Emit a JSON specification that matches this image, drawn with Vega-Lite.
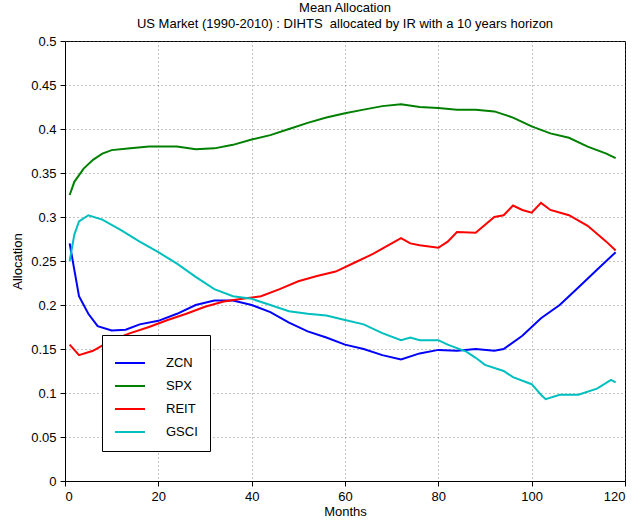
{
"$schema":"https://vega.github.io/schema/vega-lite/v6.json",
"width":560,"height":440,
"padding":{"left":11,"top":2,"right":2,"bottom":2},
"title":{"text":["Mean Allocation","US Market (1990-2010) : DIHTS \u00a0allocated by IR with a 10 years horizon"],"font":"Liberation Sans","fontSize":13,"fontWeight":"normal","color":"black","offset":4,"lineHeight":16},
"config":{"font":"Liberation Sans","view":{"stroke":"black"},"axis":{"labelFont":"Liberation Sans","titleFont":"Liberation Sans","labelFontSize":13,"titleFontSize":13,"titleFontWeight":"normal","labelColor":"black","titleColor":"black","domainColor":"black","tickColor":"black","tickSize":5,"labelPadding":4,"gridDash":[1,3],"gridColor":"#555","gridOpacity":0.7}},
"data":{"values":[
{"s":"ZCN","m":1,"v":0.27},{"s":"ZCN","m":2,"v":0.24},{"s":"ZCN","m":3,"v":0.21},{"s":"ZCN","m":5,"v":0.19},{"s":"ZCN","m":7,"v":0.176},{"s":"ZCN","m":10,"v":0.171},{"s":"ZCN","m":13,"v":0.172},{"s":"ZCN","m":16,"v":0.178},{"s":"ZCN","m":20,"v":0.182},{"s":"ZCN","m":24,"v":0.19},{"s":"ZCN","m":28,"v":0.2},{"s":"ZCN","m":32,"v":0.205},{"s":"ZCN","m":36,"v":0.205},{"s":"ZCN","m":40,"v":0.2},{"s":"ZCN","m":44,"v":0.192},{"s":"ZCN","m":48,"v":0.18},{"s":"ZCN","m":52,"v":0.17},{"s":"ZCN","m":56,"v":0.163},{"s":"ZCN","m":60,"v":0.155},{"s":"ZCN","m":64,"v":0.15},{"s":"ZCN","m":68,"v":0.143},{"s":"ZCN","m":72,"v":0.138},{"s":"ZCN","m":76,"v":0.145},{"s":"ZCN","m":80,"v":0.149},{"s":"ZCN","m":84,"v":0.148},{"s":"ZCN","m":88,"v":0.15},{"s":"ZCN","m":92,"v":0.148},{"s":"ZCN","m":94,"v":0.15},{"s":"ZCN","m":98,"v":0.165},{"s":"ZCN","m":102,"v":0.185},{"s":"ZCN","m":106,"v":0.2},{"s":"ZCN","m":110,"v":0.22},{"s":"ZCN","m":114,"v":0.24},{"s":"ZCN","m":118,"v":0.26},
{"s":"SPX","m":1,"v":0.325},{"s":"SPX","m":2,"v":0.34},{"s":"SPX","m":4,"v":0.355},{"s":"SPX","m":6,"v":0.365},{"s":"SPX","m":8,"v":0.372},{"s":"SPX","m":10,"v":0.376},{"s":"SPX","m":14,"v":0.378},{"s":"SPX","m":18,"v":0.38},{"s":"SPX","m":24,"v":0.38},{"s":"SPX","m":28,"v":0.377},{"s":"SPX","m":32,"v":0.378},{"s":"SPX","m":36,"v":0.382},{"s":"SPX","m":40,"v":0.388},{"s":"SPX","m":44,"v":0.393},{"s":"SPX","m":48,"v":0.4},{"s":"SPX","m":52,"v":0.407},{"s":"SPX","m":56,"v":0.413},{"s":"SPX","m":60,"v":0.418},{"s":"SPX","m":64,"v":0.422},{"s":"SPX","m":68,"v":0.426},{"s":"SPX","m":72,"v":0.428},{"s":"SPX","m":76,"v":0.425},{"s":"SPX","m":80,"v":0.424},{"s":"SPX","m":84,"v":0.422},{"s":"SPX","m":88,"v":0.422},{"s":"SPX","m":92,"v":0.42},{"s":"SPX","m":96,"v":0.413},{"s":"SPX","m":100,"v":0.403},{"s":"SPX","m":104,"v":0.395},{"s":"SPX","m":108,"v":0.39},{"s":"SPX","m":112,"v":0.38},{"s":"SPX","m":116,"v":0.372},{"s":"SPX","m":118,"v":0.367},
{"s":"REIT","m":1,"v":0.155},{"s":"REIT","m":3,"v":0.143},{"s":"REIT","m":6,"v":0.148},{"s":"REIT","m":10,"v":0.16},{"s":"REIT","m":14,"v":0.168},{"s":"REIT","m":18,"v":0.175},{"s":"REIT","m":22,"v":0.183},{"s":"REIT","m":26,"v":0.19},{"s":"REIT","m":30,"v":0.198},{"s":"REIT","m":34,"v":0.204},{"s":"REIT","m":38,"v":0.207},{"s":"REIT","m":42,"v":0.21},{"s":"REIT","m":46,"v":0.218},{"s":"REIT","m":50,"v":0.227},{"s":"REIT","m":54,"v":0.233},{"s":"REIT","m":58,"v":0.238},{"s":"REIT","m":62,"v":0.248},{"s":"REIT","m":66,"v":0.258},{"s":"REIT","m":70,"v":0.27},{"s":"REIT","m":72,"v":0.276},{"s":"REIT","m":74,"v":0.27},{"s":"REIT","m":76,"v":0.268},{"s":"REIT","m":80,"v":0.265},{"s":"REIT","m":82,"v":0.272},{"s":"REIT","m":84,"v":0.283},{"s":"REIT","m":88,"v":0.282},{"s":"REIT","m":92,"v":0.3},{"s":"REIT","m":94,"v":0.302},{"s":"REIT","m":96,"v":0.313},{"s":"REIT","m":98,"v":0.308},{"s":"REIT","m":100,"v":0.305},{"s":"REIT","m":102,"v":0.316},{"s":"REIT","m":104,"v":0.308},{"s":"REIT","m":108,"v":0.302},{"s":"REIT","m":112,"v":0.29},{"s":"REIT","m":116,"v":0.272},{"s":"REIT","m":118,"v":0.262},
{"s":"GSCI","m":1,"v":0.25},{"s":"GSCI","m":2,"v":0.28},{"s":"GSCI","m":3,"v":0.295},{"s":"GSCI","m":5,"v":0.302},{"s":"GSCI","m":8,"v":0.297},{"s":"GSCI","m":12,"v":0.285},{"s":"GSCI","m":16,"v":0.272},{"s":"GSCI","m":20,"v":0.26},{"s":"GSCI","m":24,"v":0.247},{"s":"GSCI","m":28,"v":0.232},{"s":"GSCI","m":32,"v":0.218},{"s":"GSCI","m":36,"v":0.21},{"s":"GSCI","m":40,"v":0.207},{"s":"GSCI","m":44,"v":0.2},{"s":"GSCI","m":48,"v":0.193},{"s":"GSCI","m":52,"v":0.19},{"s":"GSCI","m":56,"v":0.188},{"s":"GSCI","m":60,"v":0.183},{"s":"GSCI","m":64,"v":0.178},{"s":"GSCI","m":68,"v":0.168},{"s":"GSCI","m":72,"v":0.16},{"s":"GSCI","m":74,"v":0.163},{"s":"GSCI","m":76,"v":0.16},{"s":"GSCI","m":80,"v":0.16},{"s":"GSCI","m":82,"v":0.155},{"s":"GSCI","m":86,"v":0.147},{"s":"GSCI","m":88,"v":0.14},{"s":"GSCI","m":90,"v":0.132},{"s":"GSCI","m":94,"v":0.125},{"s":"GSCI","m":96,"v":0.118},{"s":"GSCI","m":100,"v":0.11},{"s":"GSCI","m":102,"v":0.098},{"s":"GSCI","m":103,"v":0.093},{"s":"GSCI","m":106,"v":0.098},{"s":"GSCI","m":110,"v":0.098},{"s":"GSCI","m":114,"v":0.105},{"s":"GSCI","m":117,"v":0.115},{"s":"GSCI","m":118,"v":0.112}
]},
"mark":{"type":"line","strokeWidth":2},
"encoding":{
"x":{"field":"m","type":"quantitative","title":"Months","scale":{"domain":[0,120],"nice":false},"axis":{"values":[0,20,40,60,80,100,120],"grid":true,"titlePadding":2}},
"y":{"field":"v","type":"quantitative","title":"Allocation","scale":{"domain":[0,0.5],"nice":false},"axis":{"values":[0,0.05,0.1,0.15,0.2,0.25,0.3,0.35,0.4,0.45,0.5],"format":"~g","grid":true,"titlePadding":6}},
"color":{"field":"s","type":"nominal","scale":{"domain":["ZCN","SPX","REIT","GSCI"],"range":["#0000ff","#008000","#ff0000","#00bfbf"]},
"legend":{"title":null,"orient":"none","legendX":37,"legendY":294,"symbolType":"stroke","symbolSize":900,"symbolStrokeWidth":2,"labelFontSize":13,"labelColor":"black","rowPadding":-6,"padding":12,"strokeColor":"black","fillColor":"white","labelOffset":20,"labelLimit":200}}
}
}
